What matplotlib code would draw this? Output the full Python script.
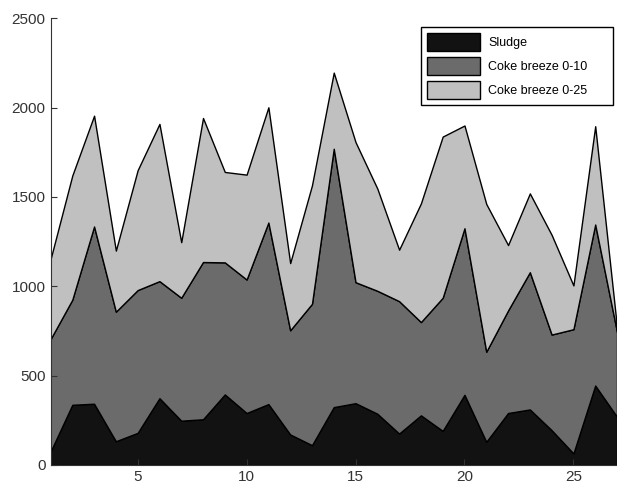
import numpy as np
import matplotlib
matplotlib.use('Agg')
import matplotlib.pyplot as plt

plt.rcParams['font.family'] = ['Liberation Sans', 'DejaVu Sans']

# values (per series, not cumulative)
days = list(range(1, 28))
sludge = [75, 337, 343, 133, 180, 374, 248, 256, 395, 291, 341, 171, 111, 324,
          346, 287, 176, 278, 191, 393, 130, 291, 311, 195, 65, 445, 270]
coke_0_10 = [629, 588, 992, 725, 799, 655, 688, 880, 739, 747, 1016, 583, 791, 1446,
             677, 688, 741, 522, 745, 932, 504, 574, 768, 535, 695, 901, 475]
coke_0_25 = [447, 695, 620, 342, 671, 880, 311, 806, 506, 587, 645, 376, 663, 426,
             784, 572, 288, 664, 902, 575, 827, 366, 441, 558, 245, 550, 25]
labels = ['Sludge', 'Coke breeze 0-10', 'Coke breeze 0-25']
colors = ['#121212', '#6b6b6b', '#c0c0c0']

fig = plt.figure(figsize=(6.17, 4.88), dpi=100)
ax = fig.add_axes([50.5 / 617, 1 - 465 / 488, 1 - 50.5 / 617, (465 - 18.3) / 488])

ax.stackplot(days, sludge, coke_0_10, coke_0_25, labels=labels, colors=colors,
             edgecolor='black', linewidth=1.0)

ax.set_xlim(1, 27)
ax.set_ylim(0, 2500)
ax.set_xticks([5, 10, 15, 20, 25])
ax.set_yticks(np.arange(0, 2501, 500))
ax.tick_params(direction='in', length=4, labelsize=11, colors='#333333')
ax.spines['top'].set_visible(False)
ax.spines['right'].set_visible(False)
ax.spines['left'].set_color('#333333')
ax.spines['bottom'].set_color('#333333')

# legend box placed like the matlab one, a bit wider than its text
leg = ax.legend(loc='upper left', mode='expand',
                bbox_to_anchor=(421 / 617, 1 - 107 / 488, 192 / 617, 80 / 488),
                bbox_transform=fig.transFigure, borderaxespad=0, fancybox=False,
                framealpha=1, edgecolor='black', fontsize=9,
                handlelength=4.2, handleheight=1.85, labelspacing=0.45,
                borderpad=0.5, handletextpad=0.7)
leg.get_frame().set_linewidth(1.0)

fig.savefig('out.png', dpi=100)
